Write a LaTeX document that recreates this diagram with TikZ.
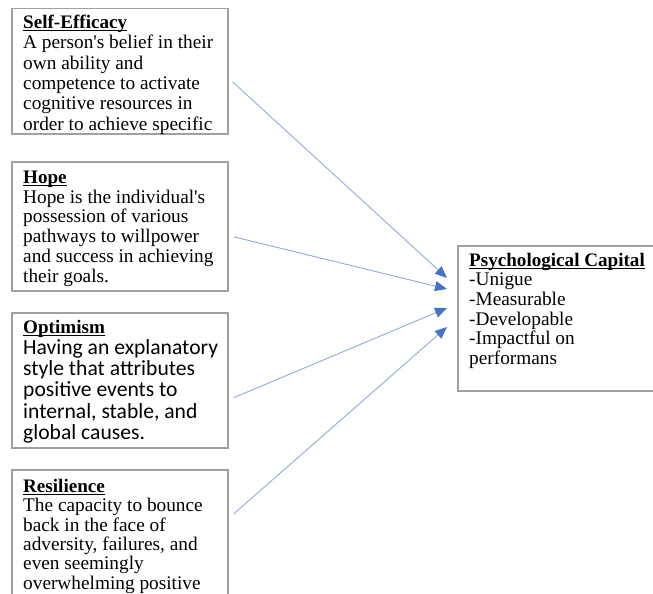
\documentclass[tikz,border=0pt]{standalone}
\usepackage{fontspec}
\setmainfont{Liberation Serif}
\newfontfamily\calibrifont{Carlito}
\usetikzlibrary{arrows.meta}
\definecolor{boxgray}{RGB}{160,160,160}
\definecolor{linkblue}{RGB}{143,170,220}
\definecolor{tipblue}{RGB}{68,114,196}
\newcommand\myul[1]{\setbox0\hbox{#1}\rlap{\rule[-3.2pt]{\wd0}{1.2pt}}\box0}
\newcommand\firstln{\rule{0pt}{15pt}}
\newcommand\ttl[1]{\myul{\rmfamily\bfseries\fontsize{19.1}{19.1}\selectfont #1}}
\begin{document}
\begin{tikzpicture}[x=1pt,y=-1pt,
  box/.style={draw=boxgray, line width=1.5pt, inner sep=0pt, anchor=north west, minimum width=216pt},
  txt/.style={inner sep=0pt, anchor=north west, align=left, font=\fontsize{19.3}{20.4}\selectfont},
  link/.style={draw=linkblue, line width=0.9pt, -{Triangle[length=12pt, width=10pt, color=tipblue]}}]
\useasboundingbox (0,0) rectangle (653,594);
\clip (0,0) rectangle (653,594);
% boxes
\node[box, minimum height=125pt] (s1) at (11,8) {};
\node[box, minimum height=129pt] (s2) at (11,161) {};
\node[box, minimum height=135pt] (s3) at (11,312) {};
\node[box, minimum height=160pt] (s4) at (11,469) {};
\node[box, minimum width=215pt, minimum height=145pt] (pc) at (457,245) {};
% texts
\node[txt] (t1) at (23,13) {\firstln\ttl{Self-Efficacy}\\A person\textquotesingle s belief in their\\own ability and\\competence to activate\\cognitive resources in\\order to achieve specific};
\node[txt, font=\fontsize{19.3}{19.8}\selectfont] (t2) at (23,168) {\firstln\ttl{Hope}\\Hope is the individual\textquotesingle s\\possession of various\\pathways to willpower\\and success in achieving\\their goals.};
\node[txt, font=\calibrifont\fontsize{21.6}{21.2}\selectfont] (t3) at (23,318) {\firstln\ttl{Optimism}\\Having an explanatory\\style that attributes\\positive events to\\internal, stable, and\\global causes.};
\node[txt, font=\fontsize{19.3}{19.4}\selectfont] (t4) at (23,477) {\firstln\ttl{Resilience}\\The capacity to bounce\\back in the face of\\adversity, failures, and\\even seemingly\\overwhelming positive};
\node[txt, font=\fontsize{19.3}{19.6}\selectfont] (t5) at (469,251) {\firstln\ttl{Psychological Capital}\\-Unigue\\-Measurable\\-Developable\\-Impactful on\\performans};
% connectors
\draw[link] ([shift={(4,10.5)}]s1.east) -- ([shift={(-10,33)}]pc.north west);
\draw[link] ([shift={(5,10.5)}]s2.east) -- ([shift={(-10,44)}]pc.north west);
\draw[link] ([shift={(5,17.5)}]s3.east) -- ([shift={(-10,63)}]pc.north west);
\draw[link] ([shift={(5,45)}]s4.north east) -- ([shift={(-10,82)}]pc.north west);
\end{tikzpicture}
\end{document}
